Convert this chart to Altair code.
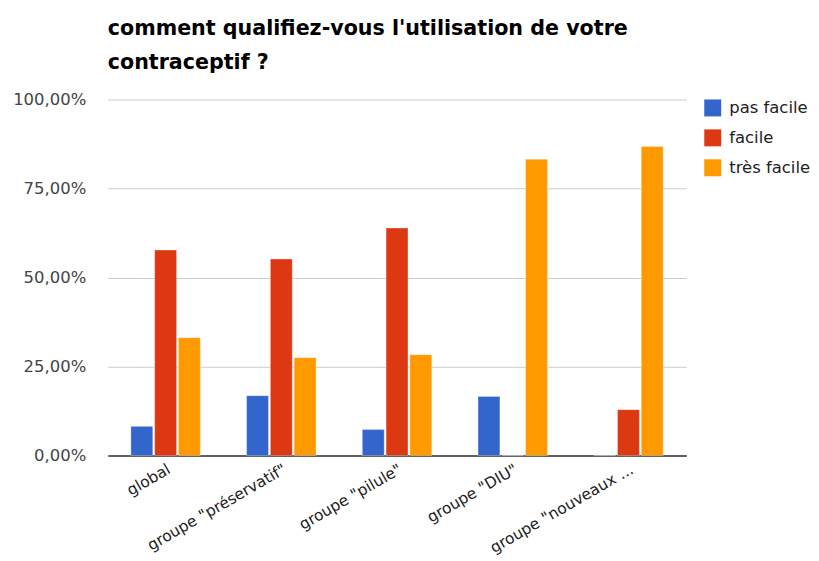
import altair as alt
import pandas as pd

groups = ["global", 'groupe "préservatif"', 'groupe "pilule"', 'groupe "DIU"', 'groupe "nouveaux ...']
series = ["pas facile", "facile", "très facile"]
pas_facile = [8.2, 16.8, 7.3, 16.6, 0.0]
facile = [57.7, 55.2, 63.9, 0.0, 12.9]
tres_facile = [33.1, 27.5, 28.3, 83.2, 86.8]
colors = ["#3366cc", "#dc3912", "#ff9900"]

rows = []
for i, g in enumerate(groups):
    for s, vals in zip(series, [pas_facile, facile, tres_facile]):
        rows.append({"groupe": g, "serie": s, "valeur": vals[i]})
df = pd.DataFrame(rows)

font = "DejaVu Sans"

chart = alt.Chart(df).mark_bar(stroke="white", strokeWidth=0.6, strokeOpacity=0.5).encode(
    x=alt.X("groupe:N", sort=groups, title=None,
            scale=alt.Scale(paddingInner=0.4, paddingOuter=0.2),
            axis=alt.Axis(labelAngle=-30, labelAlign="right", labelBaseline="top",
                          labelFontSize=15.5, labelColor="#222", labelFont=font,
                          ticks=False, domainColor="#333", domainWidth=1.5,
                          labelPadding=6, labelLimit=300)),
    xOffset=alt.XOffset("serie:N", sort=series, scale=alt.Scale(paddingInner=0.08)),
    y=alt.Y("valeur:Q", title=None,
            scale=alt.Scale(domain=[0, 100]),
            axis=alt.Axis(values=[0, 25, 50, 75, 100],
                          labelExpr="replace(format(datum.value, '.2f'), '.', ',') + '%'",
                          labelFontSize=16.5, labelColor="#444", labelFont=font,
                          ticks=False, domain=False, gridColor="#cccccc",
                          labelPadding=22)),
    color=alt.Color("serie:N", sort=series,
                    scale=alt.Scale(domain=series, range=colors),
                    legend=alt.Legend(title=None, orient="right", offset=18,
                                      symbolType="square", symbolSize=289,
                                      symbolStrokeWidth=0, labelFontSize=16.5,
                                      labelFont=font, labelColor="#222",
                                      rowPadding=13, labelOffset=8, padding=0)),
).properties(
    width=580, height=357,
    padding={"left": 4, "top": 9, "right": 0, "bottom": 0},
    title=alt.TitleParams(
        text=["comment qualifiez-vous l'utilisation de votre", "contraceptif ?"],
        anchor="start", frame="group", font=font, fontSize=20.7, fontWeight="bold",
        color="#000", lineHeight=34, offset=18),
).configure_view(stroke=None)

chart.save("out.html", embed_options={"renderer": "svg", "actions": False})
